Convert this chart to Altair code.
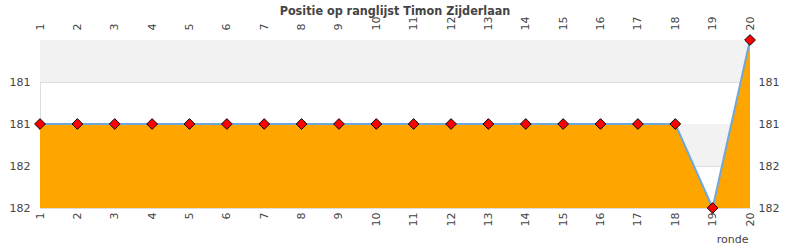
import altair as alt
import pandas as pd

rondes = list(range(1, 21))
posities = [181]*18 + [182, 180]
band_lo = [180, 181]
band_hi = [180.5, 181.5]

df = pd.DataFrame({"ronde": rondes, "positie": posities, "basis": [182]*20})
bands = pd.DataFrame({"lo": band_lo, "hi": band_hi})

FONT = "DejaVu Sans"
GREY = "#444444"

xscale = alt.Scale(domain=[1, 20], nice=False, zero=False)
yscale = alt.Scale(domain=[180, 182], reverse=True, nice=False, zero=False)

yticks = [180, 180.5, 181, 181.5, 182]
lblexpr = "datum.value == 180 ? '' : format(round(datum.value), 'd')"

band_layer = alt.Chart(bands).mark_rect(color="#f2f2f2").encode(
    y=alt.Y("lo:Q", scale=yscale,
            axis=alt.Axis(orient="left", values=yticks, labelExpr=lblexpr, title=None,
                          grid=True, gridColor="#dddddd", ticks=False, domain=True,
                          domainColor="#dddddd", labelPadding=10, labelFontSize=11,
                          labelColor=GREY, labelFont=FONT)),
    y2="hi:Q",
    x=alt.value(0), x2=alt.value(710),
)

area = alt.Chart(df).mark_area(color="#ffa500", opacity=1).encode(
    x=alt.X("ronde:Q", scale=xscale,
            axis=alt.Axis(orient="bottom", values=rondes, labelAngle=270, title="ronde",
                          grid=False, ticks=False, domain=True, domainColor="#dddddd",
                          labelPadding=4, labelFontSize=11, labelColor=GREY, labelFont=FONT,
                          labelAlign="right", labelBaseline="middle",
                          titleX=708, titleY=34, titleAlign="right", titleBaseline="alphabetic",
                          titleFontWeight="normal", titleFontSize=11, titleColor=GREY,
                          titleFont=FONT)),
    y=alt.Y("positie:Q", scale=yscale, axis=None),
    y2="basis:Q",
)

line = alt.Chart(df).mark_line(color="#6fa8dc", strokeWidth=2).encode(
    x=alt.X("ronde:Q", scale=xscale,
            axis=alt.Axis(orient="top", values=rondes, labelAngle=270, title=None,
                          grid=False, ticks=False, domain=False,
                          labelPadding=10, labelFontSize=11, labelColor=GREY, labelFont=FONT,
                          labelAlign="left", labelBaseline="middle")),
    y=alt.Y("positie:Q", scale=yscale,
            axis=alt.Axis(orient="right", values=yticks, labelExpr=lblexpr, title=None,
                          grid=False, ticks=False, domain=False,
                          labelPadding=8, labelFontSize=11, labelColor=GREY, labelFont=FONT)),
)

points = alt.Chart(df).mark_point(shape="diamond", filled=True, fill="#ff0000",
                                  stroke="#000000", strokeWidth=1, size=115, opacity=1).encode(
    x=alt.X("ronde:Q", scale=xscale, axis=None),
    y=alt.Y("positie:Q", scale=yscale, axis=None),
)

chart = alt.layer(band_layer, area, line, points).resolve_axis(
    x="independent", y="independent"
).properties(
    width=710, height=168,
    title=alt.TitleParams("Positie op ranglijst Timon Zijderlaan",
                          font="DejaVu Sans Condensed", fontSize=12.5,
                          fontWeight="bold", color=GREY, anchor="middle", offset=0, dy=1),
    autosize=alt.AutoSizeParams(type="none"),
    padding={"left": 40, "top": 40, "right": 40, "bottom": 42},
).configure_view(stroke=None)

chart.save("out.html", embed_options={"renderer": "svg", "actions": False})
